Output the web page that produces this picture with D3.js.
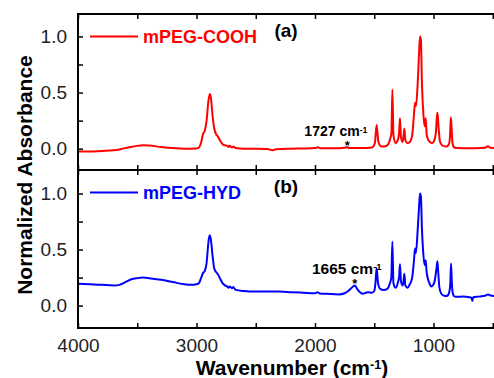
<!DOCTYPE html>
<html>
<head>
<meta charset="utf-8">
<script src="https://cdn.jsdelivr.net/npm/d3@7"></script>
<style>
  body { margin: 0; background: #fff; }
  svg { font-family: "Liberation Sans", Arial, sans-serif; display: block; }
  .tick line { stroke: #000; stroke-width: 1.5; }
  .tick text { font-size: 19px; fill: #222; }
</style>
</head>
<body>
<svg id="canvas"></svg>
<script>
const width = 494;
const height = 378;

// [wavenumber (cm-1), normalized absorbance]
const coohSpectrum = [
  [4000, -0.025], [3900, -0.025], [3800, -0.02], [3700, -0.015], [3600, 0.005],
  [3500, 0.025], [3450, 0.03], [3400, 0.028], [3300, 0.015], [3200, 0.005],
  [3100, 0.0], [3000, 0.002], [2980, 0.01], [2960, 0.06], [2945, 0.13],
  [2930, 0.16], [2915, 0.25], [2900, 0.42], [2888, 0.487], [2878, 0.45],
  [2865, 0.3], [2850, 0.18], [2835, 0.13], [2820, 0.11], [2800, 0.07],
  [2780, 0.04], [2760, 0.03], [2740, 0.025], [2730, 0.015], [2720, 0.025],
  [2700, 0.01], [2690, 0.02], [2670, 0.005], [2600, 0.0], [2500, 0.0],
  [2400, -0.002], [2360, -0.015], [2330, -0.005], [2200, 0.0], [2100, 0.002],
  [2000, 0.005], [1975, 0.012], [1950, 0.003], [1800, 0.003], [1740, 0.01],
  [1727, 0.015], [1715, 0.005], [1600, 0.005], [1520, 0.01], [1495, 0.05],
  [1480, 0.21], [1465, 0.06], [1440, 0.02], [1420, 0.02], [1390, 0.03],
  [1365, 0.09], [1355, 0.14], [1347, 0.525], [1338, 0.12], [1320, 0.05],
  [1300, 0.08], [1290, 0.15], [1283, 0.27], [1275, 0.11], [1262, 0.06],
  [1255, 0.09], [1246, 0.18], [1238, 0.08], [1220, 0.05], [1200, 0.06],
  [1180, 0.12], [1165, 0.3], [1156, 0.41], [1148, 0.38], [1135, 0.55],
  [1122, 0.85], [1114, 1.0], [1106, 0.97], [1098, 0.6], [1085, 0.3],
  [1075, 0.2], [1066, 0.27], [1058, 0.13], [1045, 0.08], [1030, 0.06],
  [1010, 0.05], [995, 0.07], [980, 0.14], [970, 0.3], [966, 0.32],
  [958, 0.2], [945, 0.06], [920, 0.025], [890, 0.02], [870, 0.04],
  [860, 0.12], [854, 0.28], [848, 0.2], [840, 0.05], [825, 0.01],
  [800, 0.005], [700, 0.003], [600, 0.005], [560, 0.01], [540, 0.022],
  [520, 0.008], [480, 0.005], [400, 0.005]
];

const hydSpectrum = [
  [4000, 0.196], [3900, 0.19], [3800, 0.185], [3700, 0.18], [3650, 0.185],
  [3600, 0.21], [3550, 0.235], [3500, 0.245], [3450, 0.25], [3400, 0.245],
  [3300, 0.23], [3200, 0.21], [3100, 0.19], [3050, 0.185], [3000, 0.19],
  [2980, 0.2], [2960, 0.25], [2945, 0.29], [2930, 0.31], [2915, 0.38],
  [2900, 0.56], [2890, 0.628], [2880, 0.6], [2865, 0.45], [2850, 0.33],
  [2835, 0.3], [2820, 0.28], [2800, 0.24], [2780, 0.2], [2760, 0.18],
  [2740, 0.17], [2730, 0.16], [2720, 0.17], [2700, 0.155], [2690, 0.165],
  [2670, 0.14], [2600, 0.13], [2500, 0.125], [2400, 0.125], [2300, 0.125],
  [2200, 0.12], [2100, 0.115], [2000, 0.11], [1980, 0.12], [1960, 0.108],
  [1900, 0.105], [1800, 0.1], [1750, 0.11], [1720, 0.13], [1690, 0.16],
  [1665, 0.18], [1645, 0.15], [1620, 0.12], [1595, 0.105], [1570, 0.115],
  [1550, 0.12], [1520, 0.115], [1500, 0.13], [1490, 0.2], [1480, 0.336],
  [1468, 0.2], [1450, 0.15], [1420, 0.14], [1390, 0.15], [1368, 0.2],
  [1356, 0.25], [1347, 0.57], [1338, 0.2], [1320, 0.16], [1302, 0.2],
  [1290, 0.26], [1283, 0.37], [1275, 0.22], [1262, 0.18], [1255, 0.2],
  [1246, 0.285], [1238, 0.18], [1220, 0.16], [1200, 0.19], [1180, 0.25],
  [1165, 0.4], [1156, 0.51], [1148, 0.47], [1135, 0.65], [1122, 0.88],
  [1114, 1.0], [1106, 0.97], [1098, 0.7], [1085, 0.45], [1075, 0.36],
  [1066, 0.405], [1058, 0.3], [1045, 0.23], [1030, 0.19], [1020, 0.17],
  [1005, 0.18], [990, 0.22], [975, 0.33], [967, 0.395], [960, 0.3],
  [950, 0.16], [930, 0.1], [900, 0.085], [880, 0.09], [865, 0.13],
  [858, 0.2], [852, 0.375], [845, 0.2], [835, 0.1], [820, 0.08],
  [800, 0.078], [750, 0.08], [700, 0.075], [680, 0.07], [672, 0.04],
  [665, 0.075], [620, 0.08], [580, 0.085], [560, 0.09], [540, 0.1],
  [520, 0.09], [480, 0.085], [450, 0.09], [400, 0.09]
];

const seriesNames = ["mPEG-COOH", "mPEG-HYD"];
const panelTags = ["(a)", "(b)"];
const peakMarks = [1727, 1665];
const xTicks = [4000, 3500, 3000, 2500, 2000, 1500, 1000, 500];
const xLabels = [4000, 3000, 2000, 1000];
const yTicks = [0, 0.25, 0.5, 0.75, 1.0];
const yLabels = [0, 0.5, 1.0];

const svg = d3.select("#canvas").attr("width", width).attr("height", height);

const xScale = d3.scaleLinear().domain([4000, 400]).range([78, 504.6]);

const panels = [
  {
    data: coohSpectrum, color: "#ff0000", top: 14, bottom: 170,
    y: d3.scaleLinear().domain([-0.19, 1.2]).range([170, 14]),
    markSize: 14
  },
  {
    data: hydSpectrum, color: "#0000ff", top: 170, bottom: 328,
    y: d3.scaleLinear().domain([-0.2, 1.21]).range([328, 170]),
    markSize: 15.5
  }
];

panels.forEach((p, i) => {
  const g = svg.append("g");

  g.append("clipPath")
    .attr("id", "clip" + i)
    .append("rect")
    .attr("x", 78)
    .attr("y", p.top)
    .attr("width", width)
    .attr("height", p.bottom - p.top);

  // axes, ticks pointing inward
  g.append("g")
    .attr("transform", `translate(78,0)`)
    .call(
      d3.axisLeft(p.y)
        .tickValues(yTicks)
        .tickSizeInner(-5)
        .tickSizeOuter(0)
        .tickPadding(11)
        .tickFormat((d) => (yLabels.includes(d) ? d3.format(".1f")(d) : ""))
    )
    .call((a) => a.select(".domain").remove());

  g.append("g")
    .attr("transform", `translate(0,${p.bottom})`)
    .call(
      d3.axisBottom(xScale)
        .tickValues(xTicks)
        .tickSizeInner(-5)
        .tickSizeOuter(0)
        .tickPadding(11)
        .tickFormat((d) => (i === 1 && xLabels.includes(d) ? d : ""))
    )
    .call((a) => a.select(".domain").remove());

  g.append("g")
    .attr("transform", `translate(0,${p.top})`)
    .call(d3.axisTop(xScale).tickValues(xTicks).tickSizeInner(-5).tickSizeOuter(0).tickFormat(""))
    .call((a) => a.select(".domain").remove());

  const line = d3
    .line()
    .x((d) => xScale(d[0]))
    .y((d) => p.y(d[1]))
    .curve(d3.curveMonotoneX);

  g.append("path")
    .datum(p.data)
    .attr("clip-path", `url(#clip${i})`)
    .attr("fill", "none")
    .attr("stroke", p.color)
    .attr("stroke-width", 2)
    .attr("stroke-linejoin", "round")
    .attr("d", line);

  g.append("rect")
    .attr("x", 78)
    .attr("y", p.top)
    .attr("width", xScale(400) - 78)
    .attr("height", p.bottom - p.top)
    .attr("fill", "none")
    .attr("stroke", "#000")
    .attr("stroke-width", 2);

  // legend
  const ly = p.top + 22.5;
  g.append("line")
    .attr("x1", 90)
    .attr("x2", 138)
    .attr("y1", ly)
    .attr("y2", ly)
    .attr("stroke", p.color)
    .attr("stroke-width", 2);

  g.append("text")
    .attr("x", 143)
    .attr("y", ly + 6.5)
    .attr("fill", p.color)
    .style("font-weight", "bold")
    .style("font-size", "18px")
    .text(seriesNames[i]);

  g.append("text")
    .attr("x", 286)
    .attr("y", p.top + 23)
    .attr("text-anchor", "middle")
    .style("font-weight", "bold")
    .style("font-size", "19px")
    .text(panelTags[i]);

  // peak annotation
  const wn = peakMarks[i];
  const peakVal = p.data.find((d) => d[0] === wn)[1];
  const px = xScale(wn);
  const py = p.y(peakVal);

  g.append("text")
    .attr("x", px)
    .attr("y", py + 3)
    .attr("text-anchor", "middle")
    .style("font-weight", "bold")
    .style("font-size", "13px")
    .text("*");

  const lab = g.append("text")
    .attr("x", px + (i === 0 ? 20 : 27))
    .attr("y", py - (i === 0 ? 10.5 : 11))
    .attr("text-anchor", "end")
    .style("font-weight", "bold")
    .style("font-size", p.markSize + "px");
  lab.append("tspan").text(wn + " cm");
  lab.append("tspan")
    .attr("dy", "-0.45em")
    .style("font-size", "0.62em")
    .text("-1");
});

// axis titles
svg.append("text")
  .attr("transform", "translate(32,175) rotate(-90)")
  .attr("text-anchor", "middle")
  .style("font-weight", "bold")
  .style("font-size", "21px")
  .text("Normalized Absorbance");

const xt = svg.append("text")
  .attr("x", 292)
  .attr("y", 375)
  .attr("text-anchor", "middle")
  .style("font-weight", "bold")
  .style("font-size", "21px");
xt.append("tspan").text("Wavenumber (cm");
xt.append("tspan").attr("dy", "-0.5em").style("font-size", "0.6em").text("-1");
xt.append("tspan").attr("dy", "0.3em").text(")");
</script>
</body>
</html>
